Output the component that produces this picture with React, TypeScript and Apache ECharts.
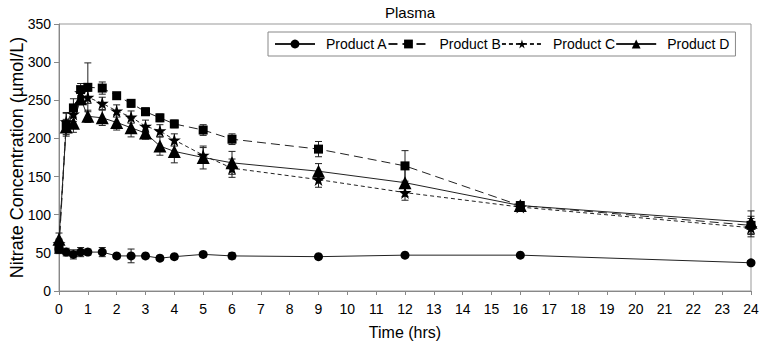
import React, { useEffect, useRef } from "react";
import * as echarts from "echarts";

const times = [0, 0.25, 0.5, 0.75, 1, 1.5, 2, 2.5, 3, 3.5, 4, 5, 6, 9, 12, 16, 24];

const productA = [55, 51, 48, 51, 51, 51, 46, 46, 46, 43, 45, 48, 46, 45, 47, 47, 37];
const productAErr = [6, 5, 6, 6, 4, 6, 3, 9, 3, 3, 3, 3, 4, 2, 2, 2, 3];

const productB = [55, 218, 240, 264, 267, 266, 256, 246, 235, 227, 219, 211, 199, 186, 164, 112, 86];
const productBErr = [5, 15, 12, 8, 32, 8, 4, 5, 5, 5, 5, 7, 7, 10, 20, 5, 12];

const productC = [62, 222, 232, 260, 254, 246, 236, 228, 216, 210, 198, 178, 161, 146, 129, 110, 83];
const productCErr = [6, 12, 10, 8, 8, 8, 8, 8, 8, 8, 8, 10, 12, 10, 10, 5, 12];

const productD = [68, 215, 220, 252, 229, 227, 221, 214, 207, 190, 183, 175, 168, 157, 142, 112, 90];
const productDErr = [8, 10, 12, 8, 8, 10, 10, 12, 8, 12, 15, 15, 15, 10, 18, 5, 15];

const seriesNames = ["Product A", "Product B", "Product C", "Product D"];
const yTicks = [0, 50, 100, 150, 200, 250, 300, 350];
const xTicks = [0, 24];

const STAR = "path://M50,0 L61,35 L98,35 L68,57 L79,91 L50,70 L21,91 L32,57 L2,35 L39,35 Z";

const FONT = "Liberation Sans, Arial, sans-serif";

function pairs(vals: number[]) {
  return times.map((t, i) => [t, vals[i]]);
}
function errPairs(vals: number[], errs: number[]) {
  return times.map((t, i) => [t, vals[i] - errs[i], vals[i] + errs[i]]);
}

function errorSeries(name: string, vals: number[], errs: number[]) {
  return {
    type: "custom",
    name: name + " err",
    data: errPairs(vals, errs),
    z: 1,
    silent: true,
    renderItem: (params: any, api: any) => {
      const x = api.value(0);
      const lo = api.value(1);
      const hi = api.value(2);
      const p1 = api.coord([x, hi]);
      const p2 = api.coord([x, lo]);
      const w = 3.5;
      const style = { stroke: "#222", lineWidth: 1 };
      return {
        type: "group",
        children: [
          { type: "line", shape: { x1: p1[0], y1: p1[1], x2: p2[0], y2: p2[1] }, style },
          { type: "line", shape: { x1: p1[0] - w, y1: p1[1], x2: p1[0] + w, y2: p1[1] }, style },
          { type: "line", shape: { x1: p2[0] - w, y1: p2[1], x2: p2[0] + w, y2: p2[1] }, style },
        ],
      };
    },
  };
}

export default function App() {
  const ref = useRef<HTMLDivElement>(null);
  useEffect(() => {
    if (!ref.current) return;
    const chart = echarts.init(ref.current, undefined, { renderer: "svg" });
    const lineBase = {
      type: "line",
      z: 3,
      itemStyle: { color: "#000" },
    };
    chart.setOption({
      animation: false,
      backgroundColor: "#fff",
      textStyle: { fontFamily: FONT },
      graphic: [
        {
          type: "text",
          x: 410,
          y: 5,
          style: {
            text: "Plasma",
            fill: "#000",
            font: `15px ${FONT}`,
            textAlign: "center",
            textVerticalAlign: "top",
          },
        },
      ],
      legend: {
        data: seriesNames,
        left: 268,
        top: 32,
        padding: [5, 6, 5, 6],
        itemWidth: 40,
        itemHeight: 11,
        itemGap: 0,
        borderColor: "#888",
        borderWidth: 1,
        textStyle: { fontSize: 14, color: "#000", fontFamily: FONT, padding: [0, 0, 0, 6] },
      },
      grid: {
        left: 59,
        right: 11,
        top: 24,
        bottom: 57,
        show: true,
        borderColor: "#999",
        borderWidth: 1,
        containLabel: false,
        outerBoundsMode: "none",
      },
      xAxis: {
        type: "value",
        min: xTicks[0],
        max: xTicks[1],
        interval: 1,
        name: "Time (hrs)",
        nameLocation: "middle",
        nameGap: 33,
        nameMoveOverlap: false,
        nameTextStyle: { fontSize: 16, color: "#000", fontFamily: FONT },
        axisLine: { lineStyle: { color: "#888" } },
        axisTick: { length: 4, lineStyle: { color: "#888" } },
        axisLabel: {
          fontSize: 14,
          color: "#000",
          fontFamily: FONT,
          margin: 11,
          interval: 0,
          hideOverlap: false,
          showMinLabel: true,
          showMaxLabel: true,
        },
        splitLine: { show: false },
      },
      yAxis: {
        type: "value",
        min: yTicks[0],
        max: yTicks[yTicks.length - 1],
        interval: 50,
        name: "Nitrate Concentration (µmol/L)",
        nameLocation: "middle",
        nameGap: 33,
        nameMoveOverlap: false,
        nameTextStyle: { fontSize: 18, color: "#000", fontFamily: FONT },
        axisLine: { show: true, lineStyle: { color: "#888" } },
        axisTick: { show: true, length: 5, lineStyle: { color: "#888" } },
        axisLabel: { fontSize: 14, color: "#000", fontFamily: FONT, margin: 8 },
        splitLine: { show: false },
      },
      series: [
        errorSeries("Product A", productA, productAErr),
        errorSeries("Product B", productB, productBErr),
        errorSeries("Product C", productC, productCErr),
        errorSeries("Product D", productD, productDErr),
        {
          ...lineBase,
          name: "Product A",
          data: pairs(productA),
          symbol: "circle",
          symbolSize: 9,
          lineStyle: { color: "#222", width: 1, type: "solid" },
        },
        {
          ...lineBase,
          name: "Product B",
          data: pairs(productB),
          symbol: "rect",
          symbolSize: 9,
          lineStyle: { color: "#222", width: 1, type: [9, 5] },
        },
        {
          ...lineBase,
          name: "Product C",
          data: pairs(productC),
          symbol: STAR,
          symbolSize: 13,
          lineStyle: { color: "#222", width: 1, type: [4, 3] },
        },
        {
          ...lineBase,
          name: "Product D",
          data: pairs(productD),
          symbol: "triangle",
          symbolSize: 13,
          lineStyle: { color: "#222", width: 1, type: "solid" },
        },
      ],
    });
    return () => chart.dispose();
  }, []);
  return <div ref={ref} style={{ width: 762, height: 348, position: "absolute", left: 0, top: 0 }} />;
}
